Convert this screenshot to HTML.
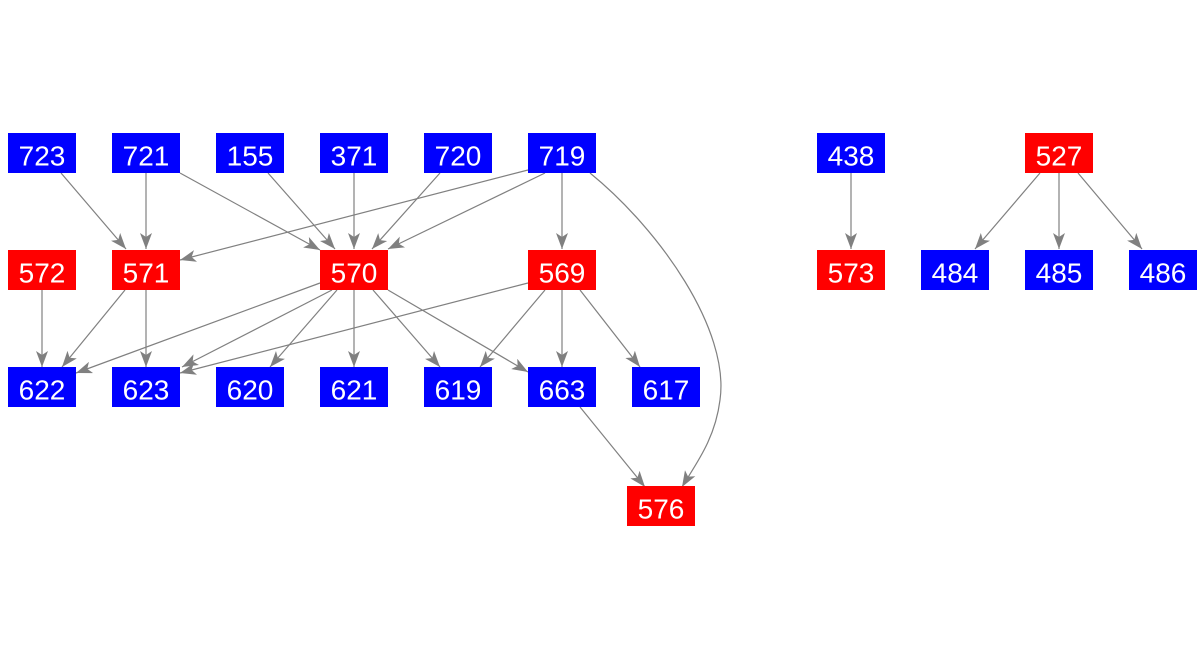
<!DOCTYPE html>
<html><head><meta charset="utf-8"><style>
html,body{margin:0;padding:0;background:#fff;}
svg{display:block}
text{font-family:"Liberation Sans",Arial,sans-serif;font-size:28px;fill:#fff;text-anchor:middle;dominant-baseline:central}
</style></head><body>
<svg width="1204" height="656" viewBox="0 0 1204 656" xmlns="http://www.w3.org/2000/svg">
<defs><marker id="a" markerWidth="16" markerHeight="12" refX="16" refY="6" orient="auto" markerUnits="userSpaceOnUse"><path d="M0,0 L16,6 L0,12 L4,6 Z" fill="#808080"/></marker></defs>
<g stroke="#808080" stroke-width="1.2" fill="none" marker-end="url(#a)">
<line x1="61" y1="173" x2="126" y2="249"/>
<line x1="146" y1="173" x2="146" y2="249"/>
<line x1="180" y1="173" x2="320" y2="250"/>
<line x1="268" y1="173" x2="335" y2="249"/>
<line x1="354" y1="173" x2="354" y2="249"/>
<line x1="440" y1="173" x2="372" y2="249"/>
<line x1="528" y1="170" x2="180" y2="260"/>
<line x1="545" y1="173" x2="388" y2="249"/>
<line x1="562" y1="173" x2="562" y2="249"/>
<path d="M590,173 C660,230 730,330 720,400 C715,440 695,465 682,487"/>
<line x1="42" y1="290" x2="42" y2="367"/>
<line x1="125" y1="290" x2="62" y2="367"/>
<line x1="146" y1="290" x2="146" y2="367"/>
<line x1="320" y1="283" x2="76" y2="373"/>
<line x1="332" y1="290" x2="182" y2="367"/>
<line x1="528" y1="283" x2="180" y2="373"/>
<line x1="337" y1="290" x2="270" y2="367"/>
<line x1="354" y1="290" x2="354" y2="367"/>
<line x1="373" y1="290" x2="440" y2="367"/>
<line x1="388" y1="290" x2="528" y2="372"/>
<line x1="545" y1="290" x2="480" y2="367"/>
<line x1="562" y1="290" x2="562" y2="367"/>
<line x1="580" y1="290" x2="640" y2="367"/>
<line x1="580" y1="407" x2="645" y2="487"/>
<line x1="851" y1="173" x2="851" y2="249"/>
<line x1="1040" y1="173" x2="975" y2="249"/>
<line x1="1059" y1="173" x2="1059" y2="249"/>
<line x1="1078" y1="173" x2="1142" y2="249"/>
</g>
<g>
<rect x="8" y="133" width="68" height="40" fill="#0000ff"/><text x="42" y="156">723</text>
<rect x="112" y="133" width="68" height="40" fill="#0000ff"/><text x="146" y="156">721</text>
<rect x="216" y="133" width="68" height="40" fill="#0000ff"/><text x="250" y="156">155</text>
<rect x="320" y="133" width="68" height="40" fill="#0000ff"/><text x="354" y="156">371</text>
<rect x="424" y="133" width="68" height="40" fill="#0000ff"/><text x="458" y="156">720</text>
<rect x="528" y="133" width="68" height="40" fill="#0000ff"/><text x="562" y="156">719</text>
<rect x="817" y="133" width="68" height="40" fill="#0000ff"/><text x="851" y="156">438</text>
<rect x="1025" y="133" width="68" height="40" fill="#ff0000"/><text x="1059" y="156">527</text>

<rect x="8" y="250" width="68" height="40" fill="#ff0000"/><text x="42" y="273">572</text>
<rect x="112" y="250" width="68" height="40" fill="#ff0000"/><text x="146" y="273">571</text>
<rect x="320" y="250" width="68" height="40" fill="#ff0000"/><text x="354" y="273">570</text>
<rect x="528" y="250" width="68" height="40" fill="#ff0000"/><text x="562" y="273">569</text>
<rect x="817" y="250" width="68" height="40" fill="#ff0000"/><text x="851" y="273">573</text>
<rect x="921" y="250" width="68" height="40" fill="#0000ff"/><text x="955" y="273">484</text>
<rect x="1025" y="250" width="68" height="40" fill="#0000ff"/><text x="1059" y="273">485</text>
<rect x="1129" y="250" width="68" height="40" fill="#0000ff"/><text x="1163" y="273">486</text>

<rect x="8" y="367" width="68" height="40" fill="#0000ff"/><text x="42" y="390">622</text>
<rect x="112" y="367" width="68" height="40" fill="#0000ff"/><text x="146" y="390">623</text>
<rect x="216" y="367" width="68" height="40" fill="#0000ff"/><text x="250" y="390">620</text>
<rect x="320" y="367" width="68" height="40" fill="#0000ff"/><text x="354" y="390">621</text>
<rect x="424" y="367" width="68" height="40" fill="#0000ff"/><text x="458" y="390">619</text>
<rect x="528" y="367" width="68" height="40" fill="#0000ff"/><text x="562" y="390">663</text>
<rect x="632" y="367" width="68" height="40" fill="#0000ff"/><text x="666" y="390">617</text>

<rect x="627" y="486" width="68" height="40" fill="#ff0000"/><text x="661" y="509">576</text>
</g>
</svg>
</body></html>
